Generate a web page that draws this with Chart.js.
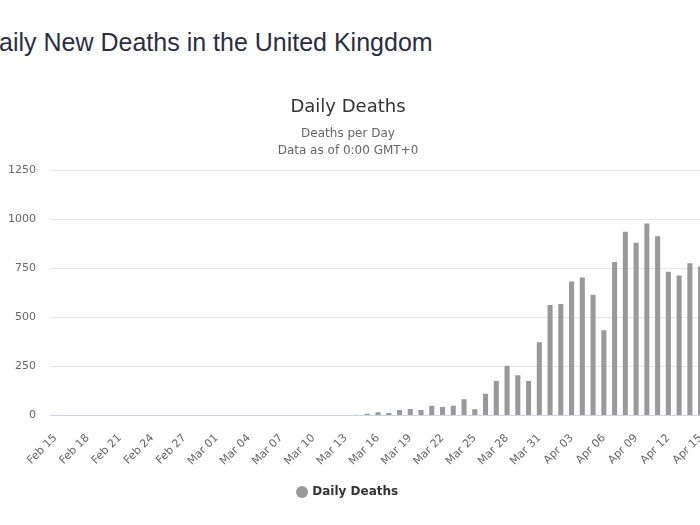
<!DOCTYPE html>
<html>
<head>
<meta charset="utf-8">
<script src="https://cdn.jsdelivr.net/npm/chart.js@4/dist/chart.umd.min.js"></script>
<style>
  html, body { margin: 0; padding: 0; width: 700px; height: 525px; overflow: hidden; background: #ffffff; }
  #heading { position: absolute; left: -19px; top: 30px; font-family: "Liberation Sans", Arial, sans-serif; font-size: 25px; color: #2c2e3f; white-space: nowrap; line-height: 1; }
  #wrap { position: absolute; left: -10px; top: 0; width: 740px; height: 525px; }
</style>
</head>
<body>
<div id="heading">Daily New Deaths in the United Kingdom</div>
<div id="wrap"><canvas id="c" width="740" height="525"></canvas></div>
<script>
const categories = [
  "Feb 15","Feb 16","Feb 17","Feb 18","Feb 19","Feb 20","Feb 21","Feb 22","Feb 23","Feb 24",
  "Feb 25","Feb 26","Feb 27","Feb 28","Feb 29","Mar 01","Mar 02","Mar 03","Mar 04","Mar 05",
  "Mar 06","Mar 07","Mar 08","Mar 09","Mar 10","Mar 11","Mar 12","Mar 13","Mar 14","Mar 15",
  "Mar 16","Mar 17","Mar 18","Mar 19","Mar 20","Mar 21","Mar 22","Mar 23","Mar 24","Mar 25",
  "Mar 26","Mar 27","Mar 28","Mar 29","Mar 30","Mar 31","Apr 01","Apr 02","Apr 03","Apr 04",
  "Apr 05","Apr 06","Apr 07","Apr 08","Apr 09","Apr 10","Apr 11","Apr 12","Apr 13","Apr 14",
  "Apr 15"
];
const dailyDeaths = [
  0, 0, 0, 0, 0, 0, 0, 0, 0, 0,
  0, 0, 0, 0, 0, 0, 0, 0, 0, 0,
  0, 0, 0, 0, 0, 0, 0, 0, 5, 10,
  17, 13, 28, 34, 29, 50, 44, 50, 84, 33,
  112, 176, 254, 205, 176, 374, 563, 568, 683, 704,
  615, 435, 783, 936, 881, 978, 914, 733, 714, 776,
  759
];
const yTicks = [0, 250, 500, 750, 1000, 1250];
const seriesName = "Daily Deaths";
const chartTitle = "Daily Deaths";
const chartSubtitle = ["Deaths per Day", "Data as of 0:00 GMT+0"];

const FONT = '"DejaVu Sans", "Lucida Grande", Verdana, sans-serif';

new Chart(document.getElementById('c'), {
  type: 'bar',
  data: {
    labels: categories,
    datasets: [{
      label: seriesName,
      data: dailyDeaths,
      backgroundColor: '#999999',
      borderWidth: 0,
      categoryPercentage: 1.0,
      barPercentage: 0.47
    }]
  },
  options: {
    responsive: false,
    animation: false,
    devicePixelRatio: 1,
    layout: { padding: { top: 87, left: 0, right: 24, bottom: 17 } },
    plugins: {
      title: {
        display: true,
        text: chartTitle,
        color: '#333333',
        font: { family: FONT, size: 18, weight: 'normal' },
        padding: { top: 10, bottom: 4 }
      },
      subtitle: {
        display: true,
        text: chartSubtitle,
        color: '#666666',
        font: { family: FONT, size: 12, weight: 'normal', lineHeight: 1.4 },
        padding: { top: 3, bottom: 11 }
      },
      legend: {
        position: 'bottom',
        labels: {
          usePointStyle: true,
          pointStyle: 'circle',
          boxWidth: 8.5,
          boxHeight: 8.5,
          color: '#333333',
          font: { family: FONT, size: 12, weight: 'bold' },
          padding: 10
        }
      },
      tooltip: { enabled: false }
    },
    scales: {
      x: {
        grid: { display: false },
        border: { display: true, color: '#ccd6eb', width: 1 },
        ticks: {
          autoSkip: false,
          minRotation: 45,
          maxRotation: 45,
          color: '#666666',
          font: { family: FONT, size: 11 },
          padding: 8,
          callback: function(value, index) { return index % 3 === 0 ? categories[index] : null; }
        }
      },
      y: {
        min: yTicks[0],
        max: yTicks[yTicks.length - 1],
        afterFit: function(scale) { scale.width = 60; },
        afterBuildTicks: function(scale) { scale.ticks = yTicks.map(v => ({ value: v })); },
        grid: { color: '#e6e6e6', drawTicks: false },
        border: { display: false },
        ticks: {
          color: '#666666',
          font: { family: FONT, size: 11 },
          padding: 14,
          callback: function(v) { return String(v); }
        }
      }
    }
  }
});
</script>
</body>
</html>
